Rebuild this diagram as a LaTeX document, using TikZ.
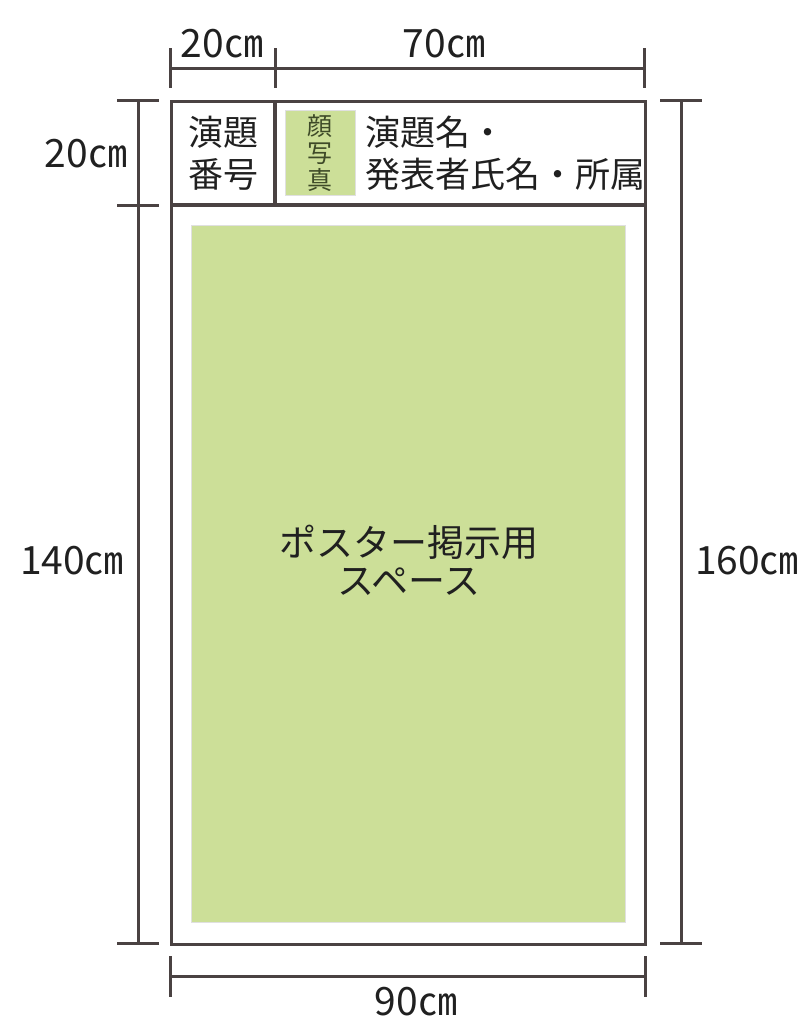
\documentclass[tikz,border=0pt]{standalone}
\usepackage{fontspec}
\setmainfont{Noto Sans CJK JP}
\definecolor{ln}{HTML}{4A4242}
\definecolor{grn}{HTML}{CCDF98}
\definecolor{txt}{HTML}{202020}
\definecolor{photo}{HTML}{3E4A28}
\tikzset{
  frame/.style={draw=ln, line width=3.2pt, line cap=butt},
  dimline/.style={draw=ln, line width=3pt},
  dimlbl/.style={font=\fontsize{39}{40}\selectfont, text=txt, inner sep=0pt},
  jptxt/.style={font=\fontsize{35}{42}\selectfont, text=txt, inner sep=0pt},
  greenbox/.style={fill=grn, draw=black!12, line width=0.8pt, inner sep=0pt, anchor=north west}
}
\begin{document}
\begin{tikzpicture}[x=1pt,y=-1pt]
\useasboundingbox (0,0) rectangle (804,1018);
% poster area
\node[greenbox, minimum width=434pt, minimum height=697pt] (poster) at (191,225) {};
\node[font=\fontsize{37}{38}\selectfont, text=txt, align=center, inner sep=0pt] (postertxt) at (409,560) {ポスター掲示用\\スペース};
% photo box
\node[greenbox, minimum width=70pt, minimum height=85pt] (photo) at (285,110) {};
\node[font=\fontsize{25}{27}\selectfont, text=photo, align=center, inner sep=0pt] (phototxt) at (photo.center) {顔\\写\\真};
% board frame
\node[frame, minimum width=474pt, minimum height=843pt, anchor=north west, inner sep=0pt] (board) at (170,100) {};
\coordinate (hl) at (170,205);
\coordinate (hr) at (644,205);
\coordinate (vt) at (275,100);
\coordinate (vb) at (275,205);
\draw[frame] (hl) -- (hr);
\draw[frame] (vt) -- (vb);
% header texts
\node[jptxt, align=center] (num) at (223,153) {演題\\番号};
\node[jptxt, align=left, anchor=west] (title) at (365,153) {演題名・\\発表者氏名・所属};
% top dimension
\coordinate (ta) at (170,68); \coordinate (tb) at (275,68); \coordinate (tc) at (644,68);
\coordinate (ta1) at (170,48); \coordinate (ta2) at (170,88);
\coordinate (tb1) at (275,48); \coordinate (tb2) at (275,88);
\coordinate (tc1) at (644,48); \coordinate (tc2) at (644,88);
\draw[dimline] (ta) -- (tc);
\draw[dimline] (ta1) -- (ta2);
\draw[dimline] (tb1) -- (tb2);
\draw[dimline] (tc1) -- (tc2);
\node[dimlbl] (d20t) at (222,44) {20㎝};
\node[dimlbl] (d70) at (444,44) {70㎝};
% left dimension
\coordinate (la) at (138,100); \coordinate (lc) at (138,943);
\coordinate (la1) at (117,100); \coordinate (la2) at (159,100);
\coordinate (lb1) at (117,205); \coordinate (lb2) at (159,205);
\coordinate (lc1) at (117,943); \coordinate (lc2) at (159,943);
\draw[dimline] (la) -- (lc);
\draw[dimline] (la1) -- (la2);
\draw[dimline] (lb1) -- (lb2);
\draw[dimline] (lc1) -- (lc2);
\node[dimlbl] (d20l) at (86,154) {20㎝};
\node[dimlbl] (d140) at (72,561) {140㎝};
% right dimension
\coordinate (ra) at (681,100); \coordinate (rc) at (681,943);
\coordinate (ra1) at (660,100); \coordinate (ra2) at (702,100);
\coordinate (rc1) at (660,943); \coordinate (rc2) at (702,943);
\draw[dimline] (ra) -- (rc);
\draw[dimline] (ra1) -- (ra2);
\draw[dimline] (rc1) -- (rc2);
\node[dimlbl] (d160) at (747,561) {160㎝};
% bottom dimension
\coordinate (ba) at (170,976); \coordinate (bc) at (645,976);
\coordinate (ba1) at (170,956); \coordinate (ba2) at (170,997);
\coordinate (bc1) at (645,956); \coordinate (bc2) at (645,997);
\draw[dimline] (ba) -- (bc);
\draw[dimline] (ba1) -- (ba2);
\draw[dimline] (bc1) -- (bc2);
\node[dimlbl, anchor=south] (d90) at (416,1016) {90㎝};
\end{tikzpicture}
\end{document}
